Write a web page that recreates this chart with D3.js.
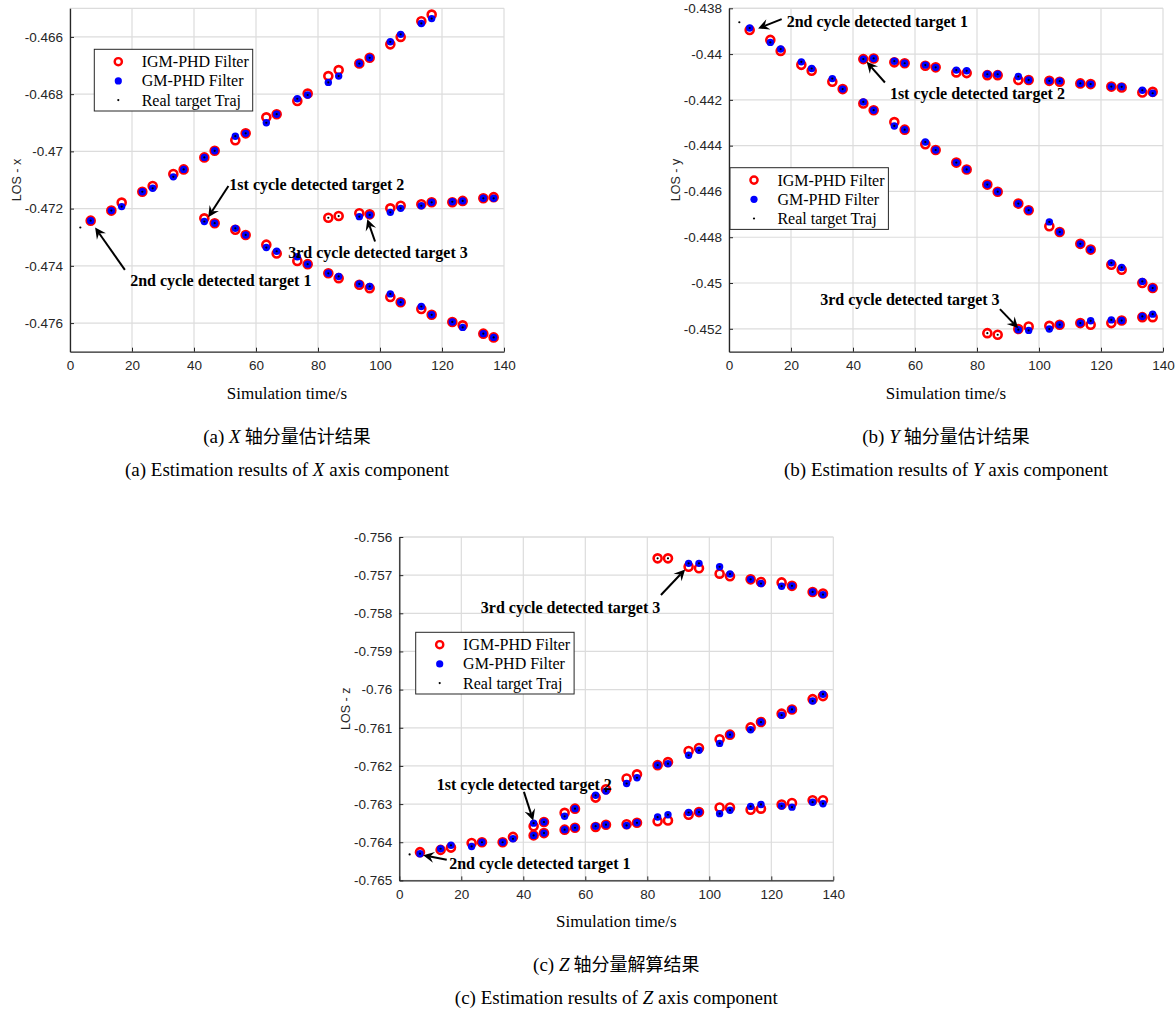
<!DOCTYPE html>
<html lang="en">
<head>
<meta charset="UTF-8">
<title>LOS component estimation results</title>
<style>
  body { margin: 0; padding: 0; background: #fff; }
  svg { display: block; }
  .tick text { font-family: 'Liberation Sans', Arial, sans-serif; font-size: 13.5px; fill: #262626; }
  .ylab { font-family: 'Liberation Sans', Arial, sans-serif; font-size: 12.5px; fill: #262626; }
  .xlab { font-family: 'Liberation Serif', 'Times New Roman', serif; font-size: 17px; fill: #000; }
  .note { font-family: 'Liberation Serif', 'Times New Roman', serif; font-size: 16px; font-weight: bold; fill: #000; }
  .leg { font-family: 'Liberation Serif', 'Times New Roman', serif; font-size: 16px; fill: #000; }
  .cap { font-family: 'Liberation Serif', 'Times New Roman', serif; font-size: 19px; fill: #000; }
  .cn { font-family: 'Noto Sans CJK SC', sans-serif; font-size: 18px; }
</style>
</head>
<body>
<script src="https://d3js.org/d3.v7.min.js"></script>
<script>
  // time stamps (s) of each track
  const timeT1 = [3.33, 6.67, 13.33, 16.67, 23.33, 26.67, 33.33, 36.67, 43.33, 46.67, 53.33, 56.67, 63.33, 66.67,
    73.33, 76.67, 83.33, 86.67, 93.33, 96.67, 103.33, 106.67, 113.33, 116.67, 123.33, 126.67, 133.33, 136.67];
  const timeT2 = [43.33, 46.67, 53.33, 56.67, 63.33, 66.67, 73.33, 76.67, 83.33, 86.67, 93.33, 96.67,
    103.33, 106.67, 113.33, 116.67, 123.33, 126.67, 133.33, 136.67];
  const timeT3 = [83.33, 86.67, 93.33, 96.67, 103.33, 106.67, 113.33, 116.67, 123.33, 126.67, 133.33, 136.67];

  const xTicks = [0, 20, 40, 60, 80, 100, 120, 140];

  // ---- X component ----
  const igmX1 = [null, -0.47242, -0.47207, -0.47179, -0.47141, -0.47121, -0.47079, -0.47063, -0.47021, -0.46998, -0.46961, -0.46937,
    -0.46881, -0.46870, -0.46824, -0.46798, -0.46737, -0.46716, -0.46693, -0.46673, -0.46626, -0.46600, -0.46545, -0.46522];
  const gmX1 = [null, -0.47242, -0.47207, -0.47193, -0.47141, -0.47129, -0.47089, -0.47063, -0.47021, -0.46998, -0.46947, -0.46937,
    -0.46900, -0.46870, -0.46816, -0.46803, -0.46759, -0.46737, -0.46693, -0.46673, -0.46617, -0.46591, -0.46553, -0.46536];
  const realX1 = [-0.47266, -0.47242, -0.47207, -0.47193, -0.47141, -0.47129, -0.47089, -0.47063, -0.47021, -0.46998, -0.46947, -0.46937,
    -0.46900, -0.46870, -0.46816, -0.46803, -0.46759, -0.46737, -0.46693, -0.46673, -0.46617, -0.46591, -0.46553, -0.46536];
  const igmX2 = [-0.47234, -0.47251, -0.47274, -0.47292, -0.47326, -0.47357, -0.47383, -0.47394, -0.47426, -0.47443,
    -0.47466, -0.47478, -0.47509, -0.47527, -0.47551, -0.47571, -0.47596, -0.47608, -0.47637, -0.47650];
  const gmX2 = [-0.47245, -0.47251, -0.47269, -0.47292, -0.47336, -0.47349, -0.47368, -0.47394, -0.47426, -0.47437,
    -0.47463, -0.47472, -0.47498, -0.47527, -0.47542, -0.47571, -0.47596, -0.47615, -0.47637, -0.47650];
  const realX2 = [-0.47245, -0.47251, -0.47269, -0.47292, -0.47336, -0.47349, -0.47368, -0.47394, -0.47426, -0.47437,
    -0.47463, -0.47472, -0.47498, -0.47527, -0.47542, -0.47571, -0.47596, -0.47615, -0.47637, -0.47650];
  const igmX3 = [-0.47232, -0.47226, -0.47216, -0.47220, -0.47199, -0.47190, -0.47185, -0.47178, -0.47178, -0.47173, -0.47164, -0.47160];
  const gmX3 = [null, null, -0.47228, -0.47222, -0.47213, -0.47199, -0.47190, -0.47178, -0.47176, -0.47173, -0.47164, -0.47164];
  const realX3 = [-0.47232, -0.47226, -0.47228, -0.47222, -0.47213, -0.47199, -0.47190, -0.47178, -0.47176, -0.47173, -0.47164, -0.47164];
  const yTicksX = [-0.476, -0.474, -0.472, -0.47, -0.468, -0.466];

  // ---- Y component ----
  const igmY1 = [null, -0.43895, -0.43938, -0.43986, -0.44047, -0.44073, -0.44121, -0.44153, -0.44216, -0.44245, -0.44297, -0.44330,
    -0.44394, -0.44419, -0.44474, -0.44504, -0.44570, -0.44601, -0.44653, -0.44682, -0.44752, -0.44777, -0.44829, -0.44854,
    -0.44920, -0.44942, -0.45000, -0.45022];
  const gmY1 = [null, -0.43886, -0.43949, -0.43978, -0.44034, -0.44063, -0.44107, -0.44153, -0.44209, -0.44245, -0.44314, -0.44330,
    -0.44384, -0.44419, -0.44474, -0.44504, -0.44570, -0.44601, -0.44653, -0.44682, -0.44733, -0.44777, -0.44829, -0.44854,
    -0.44912, -0.44932, -0.44993, -0.45022];
  const realY1 = [-0.43861, -0.43886, -0.43949, -0.43978, -0.44034, -0.44063, -0.44107, -0.44153, -0.44209, -0.44245, -0.44314, -0.44330,
    -0.44384, -0.44419, -0.44474, -0.44504, -0.44570, -0.44601, -0.44653, -0.44682, -0.44733, -0.44777, -0.44829, -0.44854,
    -0.44912, -0.44932, -0.44993, -0.45022];
  const igmY2 = [-0.44022, -0.44019, -0.44036, -0.44040, -0.44051, -0.44058, -0.44080, -0.44083, -0.44092, -0.44092,
    -0.44113, -0.44113, -0.44117, -0.44121, -0.44128, -0.44131, -0.44142, -0.44146, -0.44168, -0.44165];
  const gmY2 = [-0.44022, -0.44019, -0.44031, -0.44040, -0.44048, -0.44058, -0.44070, -0.44073, -0.44088, -0.44088,
    -0.44098, -0.44113, -0.44117, -0.44118, -0.44128, -0.44131, -0.44142, -0.44143, -0.44158, -0.44171];
  const realY2 = [-0.44022, -0.44019, -0.44031, -0.44040, -0.44048, -0.44058, -0.44070, -0.44073, -0.44088, -0.44088,
    -0.44098, -0.44113, -0.44117, -0.44118, -0.44128, -0.44131, -0.44142, -0.44143, -0.44158, -0.44171];
  const igmY3 = [-0.45219, -0.45226, -0.45201, -0.45190, -0.45187, -0.45182, -0.45175, -0.45182, -0.45175, -0.45164, -0.45149, -0.45149];
  const gmY3 = [null, null, -0.45204, -0.45207, -0.45201, -0.45182, -0.45175, -0.45165, -0.45161, -0.45164, -0.45146, -0.45136];
  const realY3 = [-0.45219, -0.45226, -0.45204, -0.45207, -0.45201, -0.45182, -0.45175, -0.45165, -0.45161, -0.45164, -0.45146, -0.45136];
  const yTicksY = [-0.452, -0.45, -0.448, -0.446, -0.444, -0.442, -0.44, -0.438];

  // ---- Z component ----
  const igmZ1 = [null, -0.76426, -0.76420, -0.76414, -0.76402, -0.76400, -0.76400, -0.76386, -0.76382, -0.76376, -0.76367, -0.76362,
    -0.76360, -0.76354, -0.76353, -0.76349, -0.76345, -0.76343, -0.76328, -0.76321, -0.76309, -0.76309, -0.76315, -0.76312,
    -0.76301, -0.76297, -0.76290, -0.76290];
  const gmZ1 = [null, -0.76430, -0.76417, -0.76408, -0.76411, -0.76400, -0.76400, -0.76391, -0.76382, -0.76376, -0.76367, -0.76362,
    -0.76358, -0.76354, -0.76356, -0.76349, -0.76334, -0.76328, -0.76322, -0.76321, -0.76325, -0.76316, -0.76306, -0.76301,
    -0.76305, -0.76308, -0.76295, -0.76299];
  const realZ1 = [-0.76432, -0.76430, -0.76417, -0.76408, -0.76411, -0.76400, -0.76400, -0.76391, -0.76382, -0.76376, -0.76367, -0.76362,
    -0.76358, -0.76354, -0.76356, -0.76349, -0.76334, -0.76328, -0.76322, -0.76321, -0.76325, -0.76316, -0.76306, -0.76301,
    -0.76305, -0.76308, -0.76295, -0.76299];
  const igmZ2 = [-0.76358, -0.76347, -0.76323, -0.76312, -0.76283, -0.76261, -0.76233, -0.76222, -0.76198, -0.76190,
    -0.76161, -0.76153, -0.76130, -0.76118, -0.76099, -0.76085, -0.76063, -0.76052, -0.76025, -0.76017];
  const gmZ2 = [-0.76350, -0.76347, -0.76332, -0.76312, -0.76277, -0.76266, -0.76246, -0.76231, -0.76198, -0.76194,
    -0.76172, -0.76159, -0.76141, -0.76118, -0.76105, -0.76085, -0.76067, -0.76052, -0.76030, -0.76012];
  const realZ2 = [-0.76350, -0.76347, -0.76332, -0.76312, -0.76277, -0.76266, -0.76246, -0.76231, -0.76198, -0.76194,
    -0.76172, -0.76159, -0.76141, -0.76118, -0.76105, -0.76085, -0.76067, -0.76052, -0.76030, -0.76012];
  const igmZ3 = [-0.75656, -0.75656, -0.75678, -0.75682, -0.75696, -0.75703, -0.75711, -0.75718, -0.75719, -0.75728, -0.75744, -0.75748];
  const gmZ3 = [null, null, -0.75669, -0.75669, -0.75678, -0.75697, -0.75711, -0.75722, -0.75729, -0.75728, -0.75744, -0.75751];
  const realZ3 = [-0.75656, -0.75656, -0.75669, -0.75669, -0.75678, -0.75697, -0.75711, -0.75722, -0.75729, -0.75728, -0.75744, -0.75751];
  const yTicksZ = [-0.765, -0.764, -0.763, -0.762, -0.761, -0.76, -0.759, -0.758, -0.757, -0.756];

  // annotation texts: [text, textT, textV, tailT, tailV, headT, headV]
  const notesX = [
    ['1st cycle detected target 2', 51.4, -0.47135, 51.1, -0.47121, 44.6, -0.47230],
    ['2nd cycle detected target 1', 19.4, -0.47470, 17.7, -0.47414, 8.1, -0.47266],
    ['3rd cycle detected target 3', 70.4, -0.47371, 98.4, -0.47315, 95.9, -0.47237]
  ];
  const notesY = [
    ['2nd cycle detected target 1', 18.6, -0.43883, 17.0, -0.43847, 9.4, -0.43888],
    ['1st cycle detected target 2', 51.9, -0.44197, 50.3, -0.44124, 44.4, -0.44034],
    ['3rd cycle detected target 3', 29.4, -0.45095, 87.4, -0.45114, 93.3, -0.45197]
  ];
  const notesZ = [
    ['3rd cycle detected target 3', 26.3, -0.75798, 84.4, -0.75752, 92.2, -0.75685],
    ['1st cycle detected target 2', 12.1, -0.76264, 40.2, -0.76268, 43.2, -0.76343],
    ['2nd cycle detected target 1', 16.1, -0.76471, 15.3, -0.76446, 7.7, -0.76434]
  ];

  const legendNames = ['IGM-PHD Filter', 'GM-PHD Filter', 'Real target Traj'];

  const panels = [
    { left: 70, top: 8.3, yDomain: [-0.477, -0.465], yTicks: yTicksX, yLabel: 'LOS - x', letter: 'X', cn: ' 轴分量估计结果',
      tag: '(a)', legend: [24.3, 41], notes: notesX,
      tracks: [[timeT1, igmX1, gmX1, realX1], [timeT2, igmX2, gmX2, realX2], [timeT3, igmX3, gmX3, realX3]] },
    { left: 729, top: 8.3, yDomain: [-0.453, -0.438], yTicks: yTicksY, yLabel: 'LOS - y', letter: 'Y', cn: ' 轴分量估计结果',
      tag: '(b)', legend: [1, 159.4], notes: notesY,
      tracks: [[timeT1, igmY1, gmY1, realY1], [timeT2, igmY2, gmY2, realY2], [timeT3, igmY3, gmY3, realY3]] },
    { left: 399.3, top: 537, yDomain: [-0.765, -0.756], yTicks: yTicksZ, yLabel: 'LOS - z', letter: 'Z', cn: ' 轴分量解算结果',
      tag: '(c)', legend: [16.4, 95.3], notes: notesZ,
      tracks: [[timeT1, igmZ1, gmZ1, realZ1], [timeT2, igmZ2, gmZ2, realZ2], [timeT3, igmZ3, gmZ3, realZ3]] }
  ];

  const W = 434, H = 343.4;

  const svg = d3.select('body').append('svg')
    .attr('width', 1176)
    .attr('height', 1013);

  // MATLAB-like tick labels: drop trailing zeros
  const fmt = d => String(+d.toFixed(3));

  panels.forEach((p, pi) => {
    const g = svg.append('g').attr('transform', `translate(${p.left},${p.top})`);
    const x = d3.scaleLinear().domain([0, 140]).range([0, W]);
    const y = d3.scaleLinear().domain(p.yDomain).range([H, 0]);

    // grid
    g.append('g').selectAll('line').data(xTicks).join('line')
      .attr('x1', d => x(d)).attr('x2', d => x(d)).attr('y1', 0).attr('y2', H)
      .attr('stroke', '#dcdcdc').attr('stroke-width', 1.2);
    g.append('g').selectAll('line').data(p.yTicks.concat([p.yDomain[1]])).join('line')
      .attr('x1', 0).attr('x2', W).attr('y1', d => y(d)).attr('y2', d => y(d))
      .attr('stroke', '#dcdcdc').attr('stroke-width', 1.2);

    // axes (ticks pointing inside)
    const xAxis = g.append('g').attr('transform', `translate(0,${H})`)
      .call(d3.axisBottom(x).tickValues(xTicks).tickSizeInner(-4).tickSizeOuter(0).tickPadding(9));
    const yAxis = g.append('g')
      .call(d3.axisLeft(y).tickValues(p.yTicks).tickFormat(fmt).tickSizeInner(-4).tickSizeOuter(0).tickPadding(7));
    [xAxis, yAxis].forEach(a => {
      a.select('.domain').attr('stroke', '#262626').attr('stroke-width', 1.3);
      a.selectAll('.tick line').attr('stroke', '#262626');
    });

    // markers
    const clipId = 'clip' + pi;
    g.append('clipPath').attr('id', clipId).append('rect')
      .attr('x', -6).attr('y', 0).attr('width', W + 6).attr('height', H);
    const plot = g.append('g').attr('clip-path', `url(#${clipId})`);

    const pts = (k) => p.tracks.flatMap(tr => tr[k].map((v, i) => [tr[0][i], v]).filter(d => d[1] !== null));

    plot.selectAll('circle.igm').data(pts(1)).join('circle')
      .attr('class', 'igm')
      .attr('cx', d => x(d[0])).attr('cy', d => y(d[1])).attr('r', 4)
      .attr('fill', 'none').attr('stroke', '#ff0000').attr('stroke-width', 2.6);
    plot.selectAll('circle.gm').data(pts(2)).join('circle')
      .attr('class', 'gm')
      .attr('cx', d => x(d[0])).attr('cy', d => y(d[1])).attr('r', 3.7)
      .attr('fill', '#0000ff');
    plot.selectAll('circle.real').data(pts(3)).join('circle')
      .attr('class', 'real')
      .attr('cx', d => x(d[0])).attr('cy', d => y(d[1])).attr('r', 1.1)
      .attr('fill', '#000');

    // annotations with arrows
    p.notes.forEach(n => {
      g.append('text').attr('class', 'note')
        .attr('x', x(n[1])).attr('y', y(n[2])).text(n[0]);
      const x1 = x(n[3]), y1 = y(n[4]), x2 = x(n[5]), y2 = y(n[6]);
      const ang = Math.atan2(y2 - y1, x2 - x1);
      const L = 11, Wd = 5.5, back = 7;
      const pt = (d, s) => [x2 - d * Math.cos(ang) - s * Math.sin(ang), y2 - d * Math.sin(ang) + s * Math.cos(ang)];
      g.append('line')
        .attr('x1', x1).attr('y1', y1)
        .attr('x2', pt(back, 0)[0]).attr('y2', pt(back, 0)[1])
        .attr('stroke', '#000').attr('stroke-width', 2);
      g.append('path')
        .attr('d', 'M' + [[x2, y2], pt(L, Wd), pt(back, 0), pt(L, -Wd)].map(q => q.join(',')).join('L') + 'Z')
        .attr('fill', '#000');
    });

    // legend
    const lg = g.append('g').attr('transform', `translate(${p.legend[0]},${p.legend[1]})`);
    lg.append('rect').attr('width', 158.4).attr('height', 61.7)
      .attr('fill', '#fff').attr('stroke', '#262626').attr('stroke-width', 1);
    legendNames.forEach((name, i) => {
      const cy = 12.4 + i * 19.2;
      if (i === 0) {
        lg.append('circle').attr('cx', 24).attr('cy', cy).attr('r', 3.6)
          .attr('fill', 'none').attr('stroke', '#ff0000').attr('stroke-width', 2.4);
      } else if (i === 1) {
        lg.append('circle').attr('cx', 24).attr('cy', cy).attr('r', 3.6).attr('fill', '#0000ff');
      } else {
        lg.append('circle').attr('cx', 24).attr('cy', cy).attr('r', 1.1).attr('fill', '#000');
      }
      lg.append('text').attr('class', 'leg').attr('x', 47.4).attr('y', cy + 5.5).text(name);
    });

    // axis titles
    g.append('text').attr('class', 'ylab')
      .attr('transform', `translate(-49.5,${H / 2}) rotate(-90)`)
      .attr('text-anchor', 'middle').text(p.yLabel);
    g.append('text').attr('class', 'xlab')
      .attr('x', W / 2).attr('y', H + 47).attr('text-anchor', 'middle').text('Simulation time/s');

    // captions
    const c1 = g.append('text').attr('class', 'cap').attr('x', W / 2).attr('y', H + 91).attr('text-anchor', 'middle');
    c1.append('tspan').text(p.tag + ' ');
    c1.append('tspan').attr('font-style', 'italic').text(p.letter);
    c1.append('tspan').attr('class', 'cn').text(p.cn);
    const c2 = g.append('text').attr('class', 'cap').attr('x', W / 2).attr('y', H + 124).attr('text-anchor', 'middle');
    c2.append('tspan').text(p.tag + ' Estimation results of ');
    c2.append('tspan').attr('font-style', 'italic').text(p.letter);
    c2.append('tspan').text(' axis component');
  });
</script>
</body>
</html>
